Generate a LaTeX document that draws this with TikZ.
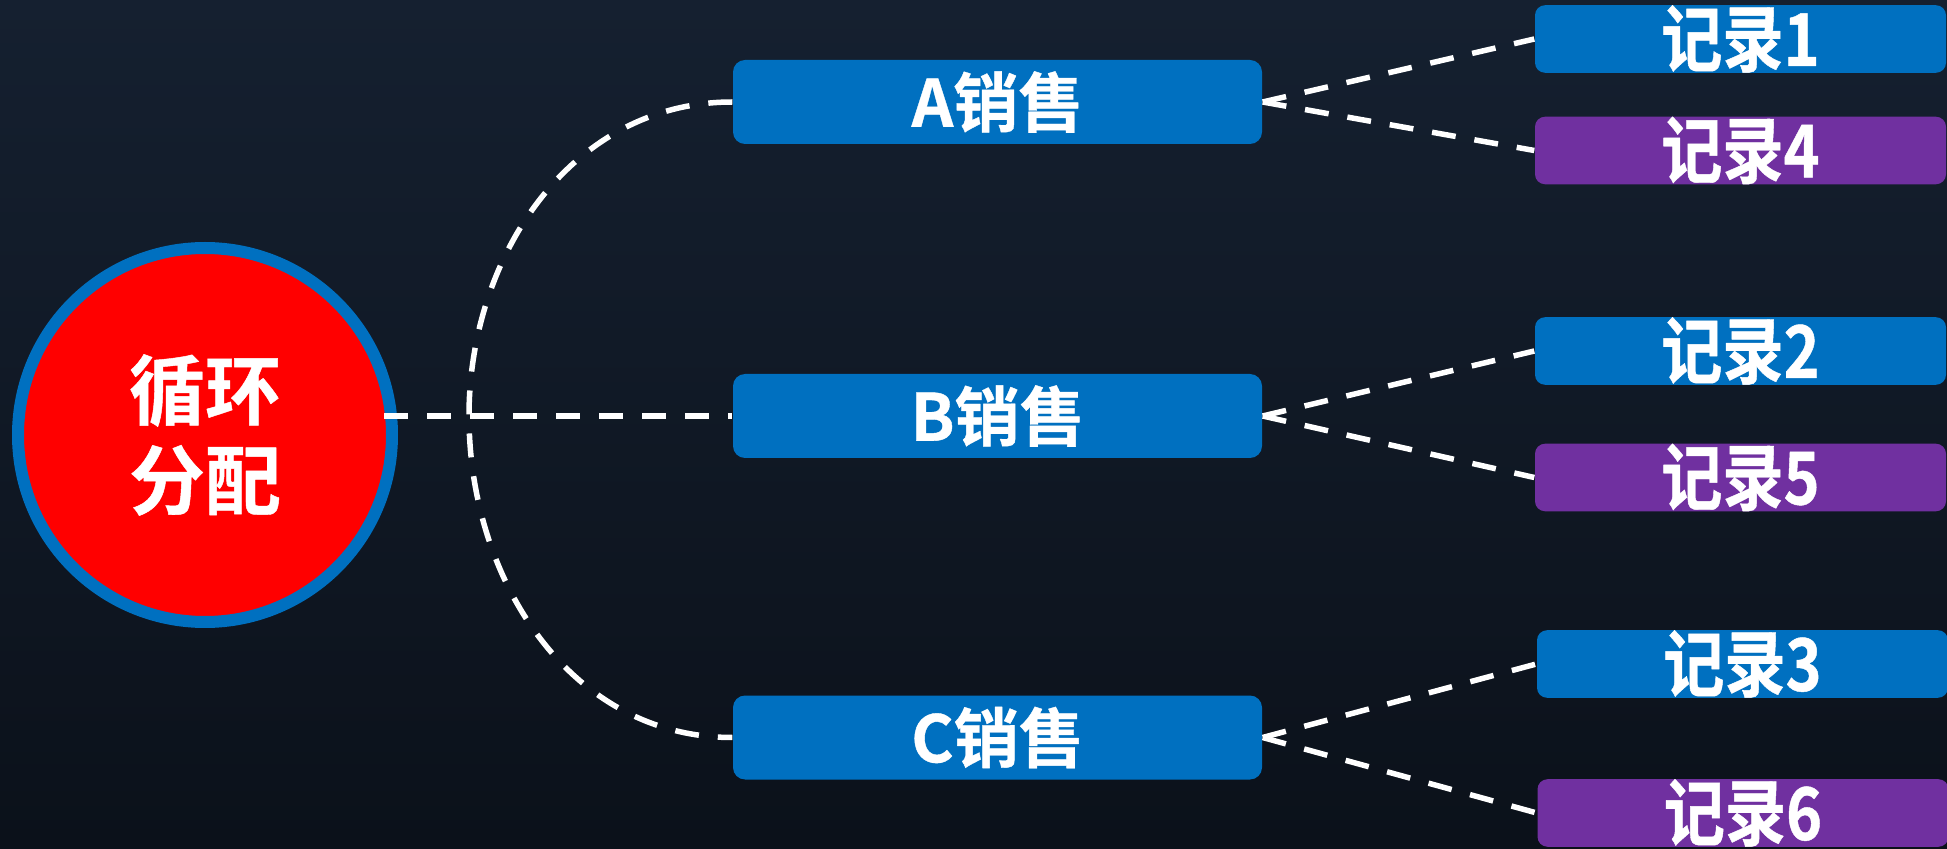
\documentclass[tikz,border=0pt]{standalone}
\usepackage{fontspec}
\newfontfamily\cjk{Noto Sans CJK SC Bold}[FakeBold=0.6]
\newfontfamily\cjknarrow{Noto Sans CJK SC Bold}[FakeStretch=0.84,FakeBold=0.6]
\definecolor{bgtop}{HTML}{152030}
\definecolor{bgbot}{HTML}{0B111A}
\definecolor{pptblue}{HTML}{0070C0}
\definecolor{pptpurple}{HTML}{7030A0}
\begin{document}
\begin{tikzpicture}[line join=round,
	sale/.style={fill=pptblue,rounded corners=0.12cm,minimum width=5.29cm,minimum height=0.84cm,inner sep=0pt,text=white,font=\cjk\fontsize{18.5}{20}\selectfont},
	rec/.style={rounded corners=0.1cm,minimum width=4.11cm,minimum height=0.66cm,inner sep=0pt,text=white,font=\cjknarrow\fontsize{20.7}{22}\selectfont},
	link/.style={draw=white,line width=0.055cm,dash pattern=on 0.24cm off 0.19cm}]
	\shade[top color=bgtop,bottom color=bgbot] (0,0) rectangle (19.47,8.48);
	\useasboundingbox (0,0) rectangle (19.47,8.48);
	% hub
	\node[circle,fill=red,draw=pptblue,line width=0.12cm,minimum size=3.74cm,outer sep=0pt,
		text=white,align=center,font=\cjk\fontsize{21.6}{25.6}\selectfont] (hub) at (2.05,4.13) {循环\\分配};
	% sales
	\node[sale] (saleA) at (9.975,7.46) {A销售};
	\node[sale] (saleB) at (9.975,4.32) {B销售};
	\node[sale] (saleC) at (9.975,1.105) {C销售};
	% records
	\foreach \n/\x/\y/\c in {1/17.405/8.09/pptblue,4/17.405/6.975/pptpurple,
		2/17.405/4.97/pptblue,5/17.405/3.705/pptpurple,
		3/17.425/1.84/pptblue,6/17.43/0.35/pptpurple}
		\node[rec,fill=\c] (rec\n) at (\x,\y) {记录\n};
	% links
	\coordinate (bend) at (4.69,4.32);
	\draw[link,shorten <=-0.08cm] (saleB.west -| hub.east) -- (saleB.west);
	\draw[link] (saleA.west) to[out=180,in=90] (bend) to[out=-90,in=180] (saleC.west);
	\foreach \s/\a/\b in {A/1/4,B/2/5,C/3/6}{
		\draw[link] (sale\s.east) -- (rec\a.west);
		\draw[link] (sale\s.east) -- (rec\b.west);}
\end{tikzpicture}
\end{document}
